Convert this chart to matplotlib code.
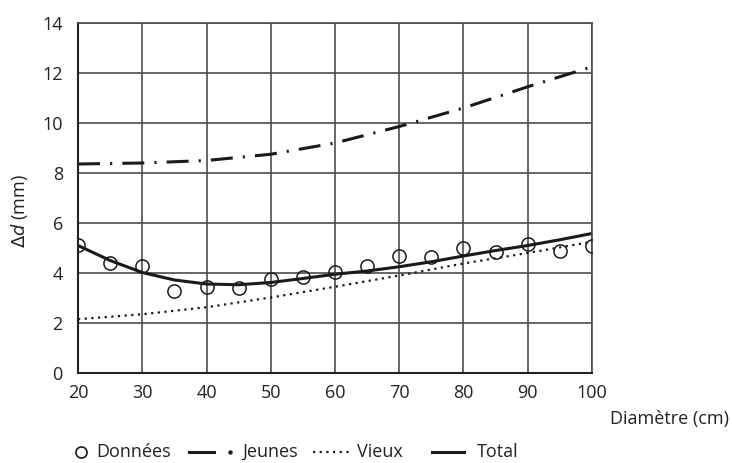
import matplotlib
matplotlib.use("Agg")
from matplotlib import pyplot as plt
from matplotlib.lines import Line2D

plt.rcParams["font.family"] = ["Open Sans", "DejaVu Sans"]
plt.rcParams["font.size"] = 13

# data
diam = [20, 25, 30, 35, 40, 45, 50, 55, 60, 65, 70, 75, 80, 85, 90, 95, 100]
donnees = [5.12, 4.41, 4.29, 3.28, 3.44, 3.39, 3.77, 3.83, 4.03, 4.28, 4.68,
           4.65, 4.99, 4.84, 5.15, 4.89, 5.09]
total = [5.1, 4.5, 4.02, 3.72, 3.56, 3.53, 3.62, 3.78, 3.95, 4.08, 4.25,
         4.45, 4.68, 4.9, 5.1, 5.33, 5.58]

diam_10 = [20, 30, 40, 50, 60, 70, 80, 90, 100]
jeunes = [8.36, 8.4, 8.5, 8.75, 9.2, 9.86, 10.6, 11.45, 12.25]
vieux = [2.15, 2.35, 2.63, 3.02, 3.45, 3.9, 4.38, 4.8, 5.25]

xticks = [20, 30, 40, 50, 60, 70, 80, 90, 100]
yticks = [0, 2, 4, 6, 8, 10, 12, 14]

fig = plt.figure(figsize=(7.32, 4.63), dpi=100)
ax = fig.add_axes([0.1066, 0.1944, 0.7021, 0.7559])

ink = "#1a1a1a"
grid_col = "#4d4d4d"
ax.plot(diam_10, jeunes, color=ink, lw=2.2, dashes=(7.2, 3.3, 0.7, 3.3))
ax.plot(diam_10, vieux, color=ink, lw=1.6, dashes=(1, 2))
ax.plot(diam, total, color=ink, lw=2.2)
ax.plot(diam, donnees, "o", ms=9.5, mfc="none", mec=ink, mew=1.1,
        ls="none", zorder=3)

ax.set_xlim(20, 100)
ax.set_ylim(0, 14)
ax.set_xticks(xticks)
ax.set_yticks(yticks)
ax.grid(True, color=grid_col, lw=1.2)
ax.set_axisbelow(True)
ax.tick_params(length=0, colors="#222222")
ax.tick_params(axis="x", pad=8)
ax.tick_params(axis="y", pad=11)
for s in ax.spines.values():
    s.set_color(grid_col)
    s.set_linewidth(1.2)
ax.spines["left"].set_color("#222222")
ax.spines["bottom"].set_color("#222222")
ax.spines["left"].set_linewidth(1.5)
ax.spines["bottom"].set_linewidth(1.5)

fig.text(0.026, 0.545, r"$\Delta$$\it{d}$ (mm)", rotation=90, ha="center",
         va="center", color="#222222")
fig.text(0.996, 1 - 419 / 463, "Diamètre (cm)", ha="right", va="center",
         color="#222222")

# legend drawn by hand along the bottom
ly = 1 - 452 / 463


def fx(px):
    return px / 732


fig.add_artist(Line2D([fx(81)], [ly], marker="o", ms=8, mfc="white",
                      mec=ink, mew=1.2, transform=fig.transFigure))
fig.text(fx(96), ly, "Données", va="center", color="#222222")
fig.add_artist(Line2D([fx(189), fx(214)], [ly, ly], color=ink, lw=2.2,
                      transform=fig.transFigure))
fig.add_artist(Line2D([fx(230)], [ly], marker="o", ms=2.2, color=ink,
                      transform=fig.transFigure))
fig.text(fx(242), ly, "Jeunes", va="center", color="#222222")
fig.add_artist(Line2D([fx(313), fx(349)], [ly, ly], color=ink, lw=1.6,
                      dashes=(1, 2), transform=fig.transFigure))
fig.text(fx(357), ly, "Vieux", va="center", color="#222222")
fig.add_artist(Line2D([fx(432), fx(464)], [ly, ly], color=ink, lw=2.2,
                      transform=fig.transFigure))
fig.text(fx(477), ly, "Total", va="center", color="#222222")

fig.savefig("out.png", dpi=100)
